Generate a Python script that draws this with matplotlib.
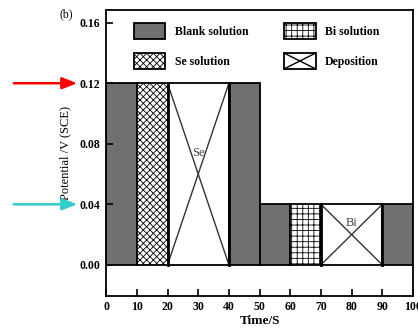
import matplotlib
matplotlib.use("Agg")
import matplotlib.pyplot as plt
import matplotlib.transforms as mtransforms
from matplotlib.patches import Rectangle, Patch
from matplotlib.lines import Line2D
from matplotlib.legend_handler import HandlerBase

# Potential steps over time (start, end, potential, kind)
seg_start = [0, 10, 20, 40, 50, 60, 70, 90]
seg_end = [10, 20, 40, 50, 60, 70, 90, 100]
seg_potential = [0.12, 0.12, 0.12, 0.12, 0.04, 0.04, 0.04, 0.04]
seg_kind = ["blank", "se", "dep", "blank", "blank", "bi", "dep", "blank"]
dep_labels = ["Se", "Bi"]

x_ticks = [0, 10, 20, 30, 40, 50, 60, 70, 80, 90, 100]
y_ticks = [0.00, 0.04, 0.08, 0.12, 0.16]

GREY = "#707070"
plt.rcParams["font.family"] = ["Liberation Serif", "DejaVu Serif"]
plt.rcParams["hatch.linewidth"] = 0.6
plt.rcParams["hatch.color"] = "#333333"

styles = {
    "blank": dict(facecolor=GREY, hatch=None),
    "se": dict(facecolor="white", hatch="xxxxx"),
    "bi": dict(facecolor="white", hatch="+++"),
    "dep": dict(facecolor="white", hatch=None),
}

fig = plt.figure(figsize=(4.18, 3.28), dpi=100)
ax = fig.add_axes([0.254, 0.098, 0.734, 0.872])

dep_i = 0
for x0, x1, v, k in zip(seg_start, seg_end, seg_potential, seg_kind):
    st = styles[k]
    ax.bar(x0, v, width=x1 - x0, align="edge", facecolor=st["facecolor"],
           hatch=st["hatch"], edgecolor="black", linewidth=1.3)
    if k == "dep":
        # cross marks the deposition step
        ax.plot([x0, x1], [v, 0], color="#333333", lw=1.0)
        ax.plot([x0, x1], [0, v], color="#333333", lw=1.0)
        ax.plot([x0, x0], [0, v], color="black", lw=2.0)
        ax.plot([x1, x1], [0, v], color="black", lw=2.0)
        ty = 0.074 if dep_i == 0 else 0.0275
        ax.text((x0 + x1) / 2, ty, dep_labels[dep_i], ha="center", va="center",
                fontsize=9, color="#444444")
        dep_i += 1

ax.set_xlim(0, 100)
ax.set_ylim(-0.0205, 0.1685)
ax.set_xticks(x_ticks)
ax.set_yticks(y_ticks)
ax.set_xticklabels([str(t) for t in x_ticks], fontsize=8.5, fontweight="bold")
ax.set_yticklabels([f"{t:.2f}" for t in y_ticks], fontsize=8.5, fontweight="bold")
ax.tick_params(direction="in", length=5, width=1.2, pad=4)
for s in ax.spines.values():
    s.set_linewidth(1.3)
ax.set_xlabel("Time/S", fontsize=9.5, fontweight="bold", labelpad=1)
ax.set_ylabel("Potential /V (SCE)", fontsize=9)
ax.yaxis.set_label_coords(-0.115, 0.5)
ax.text(-0.13, 0.985, "(b)", transform=ax.transAxes, fontsize=8.5,
        ha="center", va="center")


class HandlerCross(HandlerBase):
    def create_artists(self, legend, orig_handle, xdescent, ydescent,
                       width, height, fontsize, trans):
        x0, y0 = -xdescent, -ydescent
        r = Rectangle((x0, y0), width, height, facecolor="white",
                      edgecolor="black", lw=1.3, transform=trans)
        l1 = Line2D([x0, x0 + width], [y0, y0 + height], color="black", lw=1.0, transform=trans)
        l2 = Line2D([x0, x0 + width], [y0 + height, y0], color="black", lw=1.0, transform=trans)
        return [r, l1, l2]


h_blank = Patch(facecolor=GREY, edgecolor="black", lw=1.3)
h_se = Patch(facecolor="white", edgecolor="black", hatch="xxxxx", lw=1.3)
h_bi = Patch(facecolor="white", edgecolor="black", hatch="+++", lw=1.3)
h_dep = Line2D([], [])
ax.legend([h_blank, h_se, h_bi, h_dep],
          ["Blank solution", "Se solution", "Bi solution", "Deposition"],
          handler_map={h_dep: HandlerCross()}, ncols=2, frameon=False,
          loc="upper left", bbox_to_anchor=(0.07, 0.975), borderpad=0,
          handlelength=2.7, handleheight=1.7, handletextpad=0.8,
          columnspacing=3.0, labelspacing=1.2,
          prop=dict(size=8.5, weight="bold"))

# arrows marking the two potential levels
trans = mtransforms.blended_transform_factory(ax.transAxes, ax.transData)
for level, col in [(0.12, "red"), (0.04, "#33cccc")]:
    ax.annotate("", xy=(-0.085, level), xytext=(-0.31, level),
                xycoords=trans, textcoords=trans, annotation_clip=False,
                arrowprops=dict(arrowstyle="-|>,head_length=0.9,head_width=0.35",
                                color=col, lw=1.8))

fig.savefig("out.png", dpi=100)
